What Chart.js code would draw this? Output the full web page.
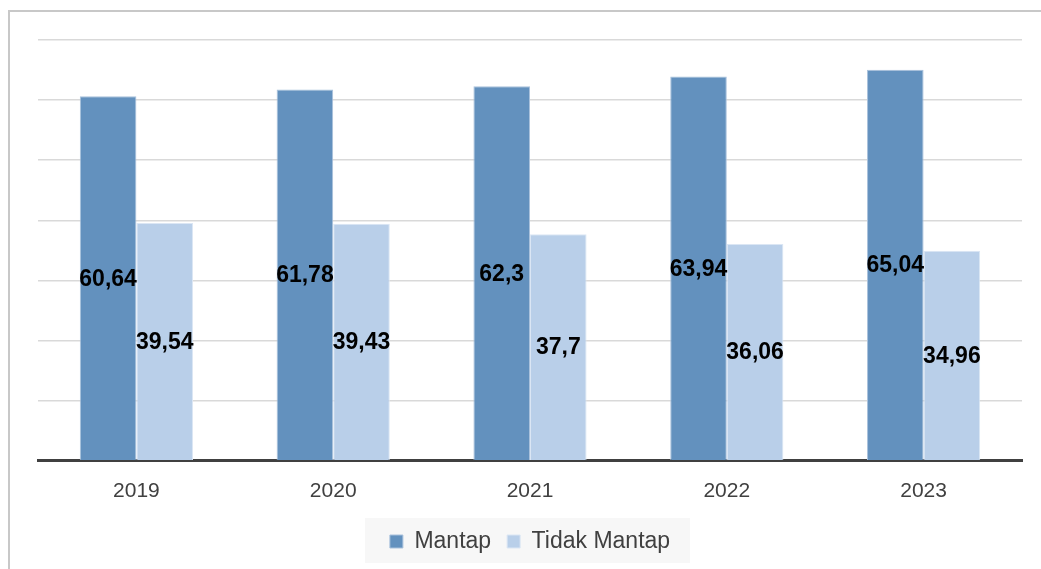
<!DOCTYPE html>
<html>
<head>
<meta charset="utf-8">
<script src="https://cdn.jsdelivr.net/npm/chart.js@4/dist/chart.umd.min.js"></script>
<style>
  html, body { margin: 0; padding: 0; background: #fff; overflow: hidden; }
  #frame {
    position: absolute; left: 8px; top: 10px; width: 1100px; height: 600px;
    border-left: 2px solid #c8c8c8; border-top: 2px solid #c8c8c8;
  }
  #wrap { position: absolute; left: 0; top: 0; width: 1041px; height: 569px; }
</style>
</head>
<body>
<div id="frame"></div>
<div id="wrap"><canvas id="chart"></canvas></div>
<script>
// Tahun dan persentase pekerja
const years = ['2019', '2020', '2021', '2022', '2023'];
const mantap = [60.64, 61.78, 62.3, 63.94, 65.04];
const tidakMantap = [39.54, 39.43, 37.7, 36.06, 34.96];

const yMin = 0;
const yMax = 70;
const yStep = 10;

// Angka di tengah batang, format desimal pakai koma
const barLabels = {
  id: 'barLabels',
  afterDatasetsDraw(chart) {
    const ctx = chart.ctx;
    ctx.save();
    ctx.font = 'bold 23px "Liberation Sans", Arial, sans-serif';
    ctx.fillStyle = '#000';
    ctx.textAlign = 'center';
    ctx.textBaseline = 'middle';
    chart.data.datasets.forEach((ds, i) => {
      chart.getDatasetMeta(i).data.forEach((bar, j) => {
        const txt = String(ds.data[j]).replace('.', ',');
        ctx.fillText(txt, bar.x, (bar.y + bar.base) / 2 + 1);
      });
    });
    ctx.restore();
  }
};

// Latar abu-abu tipis di belakang legenda
const legendBg = {
  id: 'legendBg',
  beforeDraw(chart) {
    const boxes = chart.legend && chart.legend.legendHitBoxes;
    if (!boxes || !boxes.length) return;
    const left = Math.min(...boxes.map(b => b.left));
    const right = Math.max(...boxes.map(b => b.left + b.width));
    const top = Math.min(...boxes.map(b => b.top));
    const bottom = Math.max(...boxes.map(b => b.top + b.height));
    const ctx = chart.ctx;
    ctx.save();
    ctx.fillStyle = '#f7f7f7';
    ctx.fillRect(left - 25, top - 12, right - left + 45, bottom - top + 22);
    ctx.restore();
  }
};

new Chart(document.getElementById('chart'), {
  type: 'bar',
  data: {
    labels: years,
    datasets: [
      {
        label: 'Mantap',
        data: mantap,
        backgroundColor: '#6391be',
        borderColor: '#a9c1dc',
        borderWidth: 1
      },
      {
        label: 'Tidak Mantap',
        data: tidakMantap,
        backgroundColor: '#b9cfe9',
        borderColor: '#dbe6f4',
        borderWidth: 1
      }
    ]
  },
  options: {
    responsive: true,
    maintainAspectRatio: false,
    animation: false,
    datasets: {
      bar: { categoryPercentage: 0.575, barPercentage: 1 }
    },
    layout: {
      padding: { left: 38, right: 19, top: 40, bottom: 6 }
    },
    plugins: {
      legend: {
        position: 'bottom',
        labels: {
          boxWidth: 13,
          boxHeight: 13,
          padding: 16,
          color: '#404040',
          font: { family: '"Liberation Sans", Arial, sans-serif', size: 23 }
        }
      },
      tooltip: { enabled: false }
    },
    scales: {
      x: {
        grid: { display: false },
        border: { color: '#404040', width: 3 },
        ticks: {
          color: '#404040',
          padding: 10,
          font: { family: '"Liberation Sans", Arial, sans-serif', size: 21 }
        }
      },
      y: {
        min: yMin,
        max: yMax,
        ticks: { stepSize: yStep, display: false },
        border: { display: false },
        grid: { color: '#d9d9d9', lineWidth: 1.5, drawTicks: false }
      }
    }
  },
  plugins: [barLabels, legendBg]
});
</script>
</body>
</html>
